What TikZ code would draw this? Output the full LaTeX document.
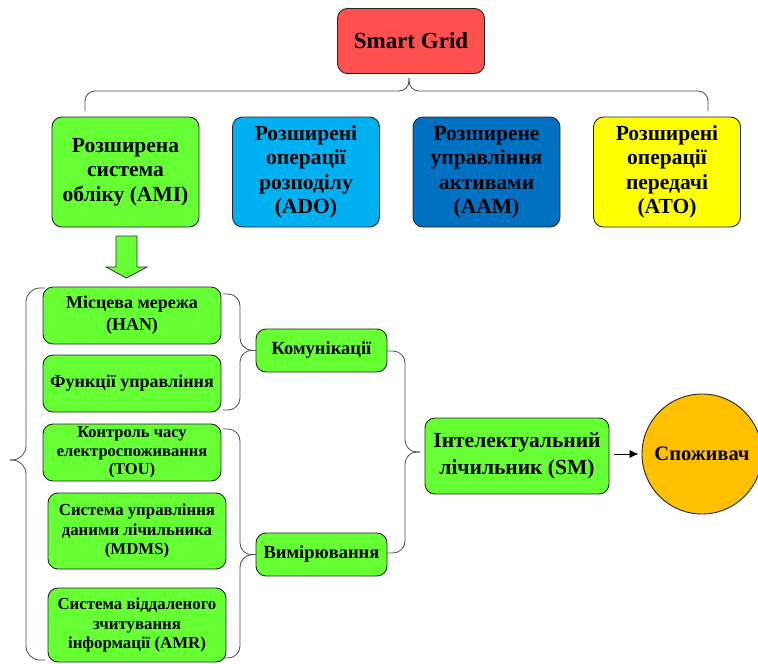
\documentclass[tikz,border=0pt]{standalone}
\usepackage{fontspec}
\setmainfont{Liberation Serif}
\usetikzlibrary{arrows.meta,calc}
\definecolor{cgreen}{HTML}{66FF33}
\definecolor{cred}{HTML}{FF5050}
\definecolor{clblue}{HTML}{00B0F0}
\definecolor{cdblue}{HTML}{0070C0}
\definecolor{cyellow}{HTML}{FFFF00}
\definecolor{corange}{HTML}{FFC000}
\begin{document}
\begin{tikzpicture}[x=1pt,y=-1pt,
  box/.style={draw=black!85, line width=0.9pt, rounded corners=10pt, align=center, inner sep=2pt},
  brc/.style={draw=black!70, line width=0.8pt, rounded corners=12pt},
  topfont/.style={font=\fontsize{21.5}{24.5}\selectfont\bfseries},
  midfont/.style={font=\fontsize{18}{22}\selectfont\bfseries},
  smallfont/.style={font=\fontsize{16.8}{19.8}\selectfont\bfseries},
]
\useasboundingbox (0,0) rectangle (758,664);

% top
\node[box, fill=cred, minimum width=147pt, minimum height=65pt, font=\fontsize{23}{27}\selectfont\bfseries] (sg) at (411,41) {Smart Grid};
\node[box, fill=cgreen, minimum width=147pt, minimum height=110pt, topfont] (ami) at (125.5,172) {Розширена\\система\\обліку (AMI)};
\node[box, fill=clblue, minimum width=147pt, minimum height=110pt, topfont] (ado) at (306,172) {Розширені\\операції\\розподілу\\(ADO)};
\node[box, fill=cdblue, minimum width=147pt, minimum height=110pt, topfont] (aam) at (486.5,172) {Розширене\\управління\\активами\\(AAM)};
\node[box, fill=cyellow, minimum width=147pt, minimum height=110pt, topfont] (ato) at (667,172) {Розширені\\операції\\передачі\\(ATO)};

% top brace
\coordinate (tb) at (409,78);
\draw[brc, rounded corners=10pt] (85,111) -- (85,91) -- (409,91) -- (tb);
\draw[brc, rounded corners=10pt] (708,111) -- (708,91) -- (409,91) -- (tb);

% green arrow
\draw[draw=black!80, line width=0.8pt, fill=cgreen] (116,236) -- (137,236) -- (137,267) -- (147,267) -- (126.5,278) -- (106,267) -- (116,267) -- cycle;

% left column
\node[box, fill=cgreen, minimum width=178pt, minimum height=57pt, midfont] (han) at (132,315.5) {Місцева мережа\\(HAN)};
\node[box, fill=cgreen, minimum width=178pt, minimum height=57pt, midfont] (fun) at (132,383.5) {Функції управління};
\node[box, fill=cgreen, minimum width=178pt, minimum height=57pt, font=\fontsize{16.5}{18.5}\selectfont\bfseries, inner sep=0pt] (tou) at (132,452.5) {Контроль часу\\електроспоживання\\(TOU)};
\node[box, fill=cgreen, minimum width=178pt, minimum height=76pt, smallfont] (mdms) at (137,531) {Система управління\\даними лічильника\\(MDMS)};
\node[box, fill=cgreen, minimum width=178pt, minimum height=74pt, smallfont] (amr) at (137,625) {Система віддаленого\\зчитування\\інформації (AMR)};

% big left brace
\coordinate (lb) at (10,460);
\draw[brc, rounded corners=14pt] (45,288) -- (26,288) -- (26,460) -- (lb);
\draw[brc, rounded corners=14pt] (45,660) -- (26,660) -- (26,460) -- (lb);

% middle
\node[box, fill=cgreen, minimum width=131pt, minimum height=43pt, font=\fontsize{18.5}{22}\selectfont\bfseries] (kom) at (321.5,350.5) {Комунікації};
\node[box, fill=cgreen, minimum width=131pt, minimum height=43pt, font=\fontsize{18.5}{22}\selectfont\bfseries] (vym) at (321.5,554.5) {Вимірювання};

\draw[brc] (223,294) -- (240,294) -- (240,350) -- (kom.west);
\draw[brc] (223,410) -- (240,410) -- (240,350) -- (kom.west);
\draw[brc] (223,429) -- (240,429) -- (240,555) -- (vym.west);
\draw[brc] (223,658) -- (240,658) -- (240,555) -- (vym.west);

% right
\node[box, fill=cgreen, minimum width=184pt, minimum height=76pt, font=\fontsize{21.5}{27}\selectfont\bfseries] (sm) at (517,456) {Інтелектуальний\\лічильник (SM)};
\node[circle, draw=black!85, line width=0.9pt, fill=corange, minimum size=120pt, inner sep=0pt, font=\fontsize{20.5}{24}\selectfont\bfseries] (cons) at (702,454) {Споживач};

\coordinate (rb) at (420,452);
\draw[brc] (kom.east) ++(0,0.5) -- (405,351) -- (405,452) -- (rb);
\draw[brc] (vym.east) ++(0,-1.5) -- (405,553) -- (405,452) -- (rb);

\draw[-{Latex[length=9pt,width=8pt]}, line width=0.8pt, shorten <=5pt, shorten >=3pt] (sm.east |- cons.west) -- (cons.west);
\end{tikzpicture}
\end{document}
